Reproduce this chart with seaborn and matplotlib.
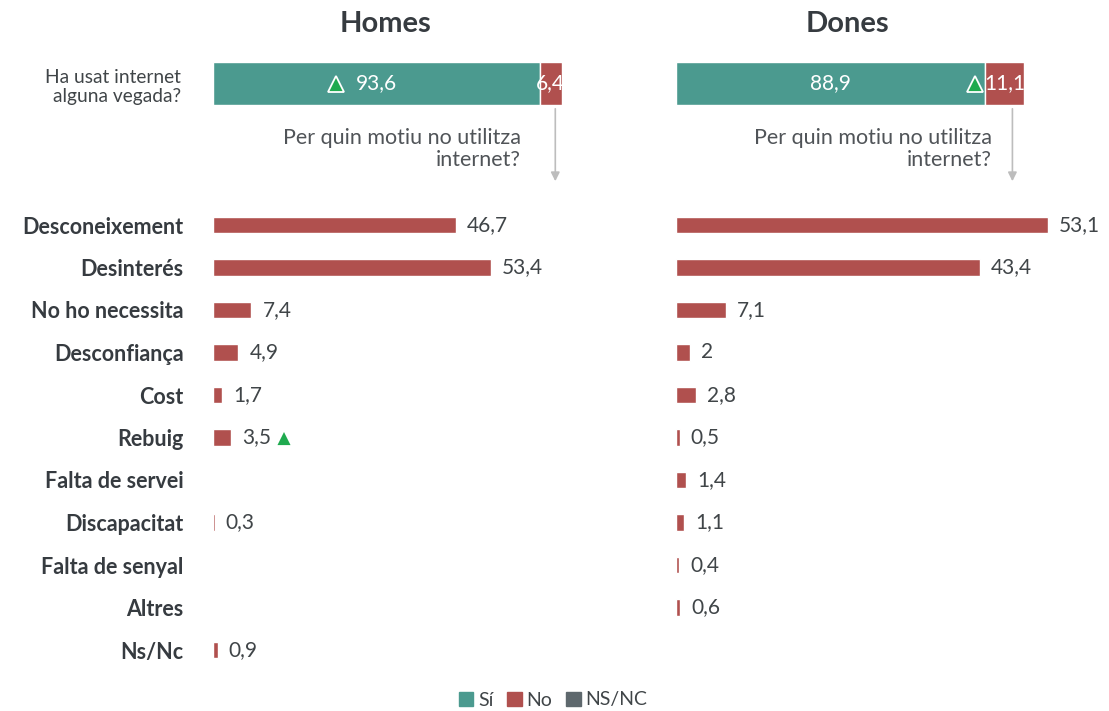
import numpy as np
import pandas as pd
import matplotlib.pyplot as plt
import matplotlib.transforms as mtransforms
import seaborn as sns
from matplotlib.patches import Patch, FancyArrowPatch

sns.set_theme(style='white')
plt.rcParams['font.family'] = ['Lato', 'DejaVu Sans']

# Dades
motius = ['Desconeixement', 'Desinterés', 'No ho necessita', 'Desconfiança', 'Cost',
          'Rebuig', 'Falta de servei', 'Discapacitat', 'Falta de senyal', 'Altres', 'Ns/Nc']
homes_motius = [46.7, 53.4, 7.4, 4.9, 1.7, 3.5, np.nan, 0.3, np.nan, np.nan, 0.9]
dones_motius = [53.1, 43.4, 7.1, 2.0, 2.8, 0.5, 1.4, 1.1, 0.4, 0.6, np.nan]
homes_us = [93.6, 6.4]   # Sí, No
dones_us = [88.9, 11.1]
# canvis significatius (triangle verd)
homes_us_sig = [True, False]
dones_us_sig = [False, True]
homes_motius_sig = ['Rebuig']
dones_motius_sig = []

TEAL = '#4B9A8F'
RED = '#B0504E'
GREY = '#5E686D'
TXT = '#404548'
LBL = '#363B40'
GREEN = '#1FAA4F'

W, H = 1109, 711
fig = plt.figure(figsize=(W / 100, H / 100), dpi=100)


def box(x0, y0, x1, y1):
    return [x0 / W, 1 - y1 / H, (x1 - x0) / W, (y1 - y0) / H]


def fmt(v):
    return f'{v:g}'.replace('.', ',')


def tri(ax, x, y, dx):
    tr = mtransforms.offset_copy(ax.transData, fig=fig, x=dx, y=0, units='dots')
    ax.plot([x], [y], marker='^', markersize=12, color=GREEN, markeredgecolor='white',
            markeredgewidth=1.3, transform=tr, clip_on=False, zorder=5)


panels = [
    dict(title='Homes', tx=385, us=homes_us, sig=homes_us_sig, mot=homes_motius,
         msig=homes_motius_sig, top=(213, 562), bot=(213, 562), xmax=67.1,
         txt_right=521, tri_dx=[-40, -30], labels=True),
    dict(title='Dones', tx=847, us=dones_us, sig=dones_us_sig, mot=dones_motius,
         msig=dones_motius_sig, top=(676, 1024), bot=(676, 1085), xmax=58.4,
         txt_right=992, tri_dx=[-40, -30], labels=False),
]

for p in panels:
    fig.text(p['tx'] / W, 1 - 24 / H, p['title'], ha='center', va='center',
             fontsize=21, fontweight='bold', color=LBL)

    # barra superior: ha usat internet?
    x0, x1 = p['top']
    axt = fig.add_axes(box(x0, 62, x1, 105))
    si, no = p['us']
    axt.barh(0, si, height=1, color=TEAL)
    axt.barh(0, no, left=si, height=1, color=RED)
    axt.set_xlim(0, 100)
    axt.set_ylim(-0.5, 0.5)
    axt.axis('off')
    centres = [si / 2, si + no / 2]
    for c, v, s, dx in zip(centres, p['us'], p['sig'], p['tri_dx']):
        axt.text(c, 0, fmt(v), ha='center', va='center', color='white', fontsize=15,
                 clip_on=True)
        if s:
            tri(axt, c, 0, dx)

    # fletxa
    ax_x = x0 + (si + 0.7 * no) / 100 * (x1 - x0)
    fig.add_artist(FancyArrowPatch(
        (ax_x / W, 1 - 106 / H), (ax_x / W, 1 - 184 / H), transform=fig.transFigure,
        arrowstyle='-|>', mutation_scale=13, color='#BDBDBD', lw=1.2))
    fig.text(p['txt_right'] / W, 1 - 149 / H, 'Per quin motiu no utilitza\ninternet?',
             ha='right', va='center', fontsize=15.5, color='#505458', linespacing=1.1)

    # motius
    b0, b1 = p['bot']
    ax = fig.add_axes(box(b0, 203.75, b1, 671.25))
    df = pd.DataFrame({'motiu': motius, 'valor': p['mot']})
    sns.barplot(data=df, y='motiu', x='valor', order=motius, color=RED, width=0.38,
                saturation=1, orient='h', errorbar=None, ax=ax)
    ax.set_xlim(0, p['xmax'])
    ax.set_ylim(len(motius) - 0.5, -0.5)
    sns.despine(ax=ax, left=True, bottom=True)
    ax.set_xlabel('')
    ax.set_ylabel('')
    ax.set_xticks([])
    ax.tick_params(axis='y', length=0, pad=21)
    if p['labels']:
        for t in ax.get_yticklabels():
            t.set_fontweight('bold')
            t.set_fontsize(15.5)
            t.set_color(LBL)
    else:
        ax.set_yticklabels([])
    for i, (m, v) in enumerate(zip(motius, p['mot'])):
        if np.isnan(v):
            continue
        ax.annotate(fmt(v), (v, i), xytext=(8, 0), textcoords='offset points',
                    ha='left', va='center', fontsize=15, color=TXT)
        if m in p['msig']:
            tri(ax, v, i, 53)

fig.text(181 / W, 1 - 87 / H, 'Ha usat internet\nalguna vegada?', ha='right', va='center',
         fontsize=13.8, color=TXT, linespacing=1.15)

handles = [Patch(color=TEAL, label='Sí'), Patch(color=RED, label='No'),
           Patch(color=GREY, label='NS/NC')]
fig.legend(handles=handles, loc='center', bbox_to_anchor=(553 / W, 1 - 700 / H), ncol=3,
           frameon=False, handlelength=0.75, handleheight=0.75, handletextpad=0.25,
           columnspacing=0.7, fontsize=14, labelcolor=TXT)

fig.savefig('out.png', dpi=100)
